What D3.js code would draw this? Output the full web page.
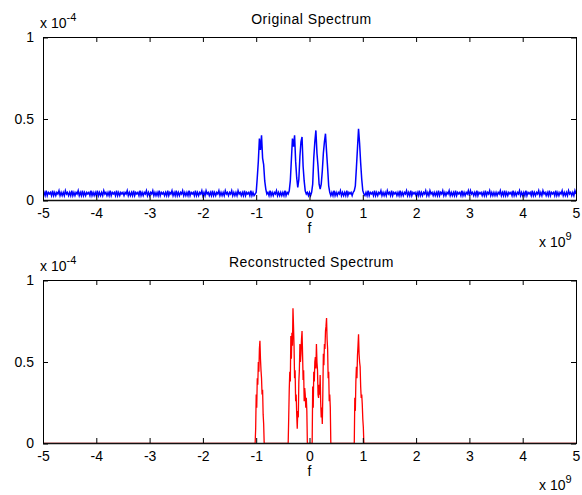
<!DOCTYPE html>
<html>
<head>
<meta charset="utf-8">
<script src="https://cdn.jsdelivr.net/npm/d3@7"></script>
<style>
  html, body { margin: 0; padding: 0; background: #fff; }
  svg { display: block; }
  text { font-family: "Liberation Sans", Arial, Helvetica, sans-serif; fill: #000; }
</style>
</head>
<body>
<svg id="chart" width="582" height="495"></svg>
<script>
// ---------------- DATA ----------------
// frequency axis (units of 1e9 Hz)
const xTicks = [-5, -4, -3, -2, -1, 0, 1, 2, 3, 4, 5];
const xTickLabels = ["-5", "-4", "-3", "-2", "-1", "0", "1", "2", "3", "4", "5"];
const yTicks = [0, 0.5, 1];
const yTickLabels = ["0", "0.5", "1"];
const titles = ["Original Spectrum", "Reconstructed Spectrum"];
const xLabel = "f";

// Original spectrum: samples every 0.02 (x1e9) from -5 to 5, values in units of 1e-6
const origStart = -5, origStep = 0.02;
const origValues = [
  3,5,3,6,3,5,4,5,3,6,3,5,3,5,4,6,3,5,3,5,3,6,4,5,3,
  5,3,6,3,5,3,5,4,6,3,5,3,6,3,5,3,5,4,5,3,6,3,5,3,5,
  3,6,3,5,3,5,3,6,4,5,3,5,3,6,3,5,4,5,3,6,3,5,3,5,4,
  5,3,5,4,6,3,5,3,5,3,6,3,5,4,5,3,6,3,5,3,5,4,6,3,5,
  3,5,4,6,3,5,3,5,3,6,3,5,4,5,3,5,3,6,3,5,4,6,3,5,3,
  6,3,5,3,5,4,6,3,5,3,5,3,6,3,5,4,5,3,6,3,5,3,5,4,6,
  3,5,3,6,4,5,3,5,3,6,3,5,3,5,4,6,3,5,3,5,3,6,4,5,3,
  5,4,6,3,5,3,5,3,6,4,5,3,5,3,6,3,5,4,5,3,6,3,5,3,4,
  5,14,24,38,31,40,26,22,12,7,4,5,3,6,3,5,3,5,4,6,3,5,3,5,3,
  5,3,6,3,5,4,6,12,25,38,33,40,24,14,8,13,27,36,39,21,12,6,4,5,3,
  5,3,5,10,26,36,43,29,21,10,7,10,18,29,36,41,30,20,9,5,3,5,3,6,3,
  5,3,5,4,6,3,5,3,5,3,6,3,5,4,5,3,5,6,9,20,32,44,35,23,13,
  6,4,3,5,3,6,3,5,4,5,3,6,3,5,3,5,4,6,3,5,3,5,3,6,4,
  5,3,6,3,5,4,5,3,5,3,6,3,5,3,5,4,6,3,5,3,6,3,5,4,5,
  3,5,3,6,3,5,3,5,4,6,3,5,3,6,4,5,3,5,3,5,3,6,3,5,4,
  6,3,5,3,5,4,6,3,5,3,5,3,6,3,5,4,5,3,6,3,5,3,5,4,6,
  3,6,4,5,3,5,3,6,3,5,4,5,3,5,3,6,3,5,4,6,3,5,3,5,3,
  5,3,5,4,6,3,5,3,6,3,5,3,5,4,5,3,6,3,5,3,5,4,6,3,5,
  3,5,3,6,3,5,4,5,3,6,3,5,3,5,4,6,3,5,3,6,4,5,3,5,3,
  6,3,5,4,5,3,6,3,5,3,5,4,6,3,5,3,5,3,6,4,5,3,5,3,6,
  4
];

// Reconstructed spectrum: nonzero only in four bands, samples every 0.01 (x1e9), values in 1e-6
const reconStep = 0.01;
const reconBandStarts = [-1.02, -0.40, 0.05, 0.84];
const reconBand1 = [0,9,30,22,40,36,50,44,58,63,52,45,40,30,33,18,12,0];
const reconBand2 = [0,16,33,44,38,66,52,68,60,83,72,60,40,45,26,30,18,9,20,16,38,45,61,50,55,64,69,55,39,45,26,34,30,22,28,20,0];
const reconBand3 = [0,35,22,44,38,50,53,46,61,50,45,30,28,36,30,42,25,16,22,12,30,55,48,61,58,69,72,77,64,58,40,44,26,30,22,0];
const reconBand4 = [0,28,20,38,47,40,54,60,67,55,50,47,35,28,30,24,15,10,0];
const reconBands = [reconBand1, reconBand2, reconBand3, reconBand4];

// ---------------- BUILD SERIES ----------------
const origSeries = origValues.map((v, i) => ({ f: origStart + i * origStep, v: v / 100 }));
const reconSeries = [{ f: -5, v: 0 }];
reconBands.forEach((band, b) => {
  band.forEach((v, i) => reconSeries.push({ f: reconBandStarts[b] + i * reconStep, v: v / 100 }));
});
reconSeries.push({ f: 5, v: 0 });

// ---------------- DRAW ----------------
const svg = d3.select("#chart");
const left = 43, right = 576;
const panels = [
  { top: 37, bottom: 200, data: origSeries, color: "#0000ff", title: titles[0], width: 1.5 },
  { top: 280, bottom: 443, data: reconSeries, color: "#ff0000", title: titles[1], width: 1.3 }
];

const fontSize = 14;

panels.forEach(p => {
  const x = d3.scaleLinear().domain([-5, 5]).range([left, right]);
  const y = d3.scaleLinear().domain([0, 1]).range([p.bottom + 0.5, p.top + 0.5]);
  const g = svg.append("g");

  const clipId = "clip" + p.top;
  svg.append("clipPath").attr("id", clipId)
    .append("rect").attr("x", left).attr("y", p.top).attr("width", right - left).attr("height", p.bottom - p.top + 1);

  const line = d3.line().x(d => x(d.f)).y(d => y(d.v));
  g.append("path")
    .datum(p.data)
    .attr("clip-path", `url(#${clipId})`)
    .attr("fill", "none")
    .attr("stroke", p.color)
    .attr("stroke-width", p.width)
    .attr("stroke-linejoin", "miter")
    .attr("d", line);

  const axB = d3.axisBottom(x).tickValues(xTicks).tickSizeInner(-5).tickSizeOuter(0).tickPadding(8).tickFormat((d, i) => xTickLabels[i]);
  const axT = d3.axisTop(x).tickValues(xTicks).tickSizeInner(-5).tickSizeOuter(0).tickFormat("");
  const axL = d3.axisLeft(y).tickValues(yTicks).tickSizeInner(-5).tickSizeOuter(0).tickPadding(9).tickFormat((d, i) => yTickLabels[i]);
  const axR = d3.axisRight(y).tickValues(yTicks).tickSizeInner(-5).tickSizeOuter(0).tickFormat("");

  const gb = g.append("g").attr("transform", `translate(0,${p.bottom})`).call(axB);
  const gt = g.append("g").attr("transform", `translate(0,${p.top})`).call(axT);
  const gl = g.append("g").attr("transform", `translate(${left},0)`).call(axL);
  const gr = g.append("g").attr("transform", `translate(${right},0)`).call(axR);
  [gb, gt, gl, gr].forEach(a => {
    a.selectAll("path.domain").attr("stroke", "#000").attr("stroke-width", 1);
    a.selectAll(".tick line").attr("stroke", "#000").attr("stroke-width", 1);
    a.selectAll("text").style("font-family", '"Liberation Sans", Arial, sans-serif').style("font-size", fontSize + "px").attr("fill", "#000");
  });
  gb.select("path.domain").attr("stroke-width", 1.6).attr("stroke", "#111");

  g.append("text").attr("x", (left + right) / 2 + 2).attr("y", p.top - 13)
    .attr("text-anchor", "middle").style("font-size", fontSize + "px")
    .style("letter-spacing", "0.5px").text(p.title);

  const ey = g.append("text").attr("x", left - 3).attr("y", p.top - 9).style("font-size", fontSize + "px");
  ey.append("tspan").text("x 10");
  ey.append("tspan").attr("dy", -7).style("font-size", "11px").text("-4");

  g.append("text").attr("x", (left + right) / 2).attr("y", p.bottom + 33)
    .attr("text-anchor", "middle").style("font-size", fontSize + "px").text(xLabel);

  const ex = g.append("text").attr("x", 539).attr("y", p.bottom + 47).style("font-size", fontSize + "px");
  ex.append("tspan").text("x 10");
  ex.append("tspan").attr("dy", -7).style("font-size", "11px").text("9");
});
</script>
</body>
</html>
